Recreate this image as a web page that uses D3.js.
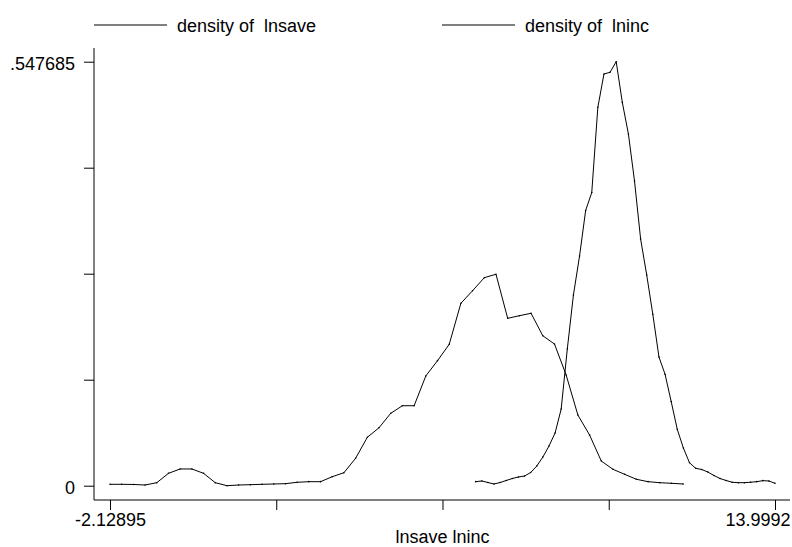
<!DOCTYPE html>
<html>
<head>
<meta charset="utf-8">
<script src="https://cdn.jsdelivr.net/npm/d3@7"></script>
<style>
  html, body { margin: 0; padding: 0; background: #fff; }
  svg text { font-family: "Liberation Sans", Arial, sans-serif; font-size: 18px; fill: #000; }
</style>
</head>
<body>
<svg id="chart" width="792" height="547"></svg>
<script>
// ---- data ----
const seriesNames = ["density of  lnsave", "density of  lninc"];
const xAxisTitle = "lnsave lninc";

const lnsaveX = [-2.129, -1.845, -1.562, -1.278, -0.994, -0.711, -0.427, -0.143, 0.140, 0.424,
  0.708, 0.991, 1.275, 1.559, 1.842, 2.126, 2.410, 2.693, 2.977, 3.261,
  3.544, 3.828, 4.112, 4.396, 4.679, 4.963, 5.247, 5.530, 5.814, 6.098,
  6.381, 6.665, 6.949, 7.232, 7.516, 7.800, 8.083, 8.367, 8.651, 8.934,
  9.218, 9.502, 9.786, 10.069, 10.353, 10.637, 10.920, 11.204, 11.488, 11.771];
const lnsaveY = [0.0018, 0.0018, 0.0016, 0.0009, 0.0039, 0.0160, 0.0216, 0.0216, 0.0160, 0.0039,
  0.0000, 0.0009, 0.0013, 0.0018, 0.0022, 0.0026, 0.0044, 0.0052, 0.0052, 0.0116,
  0.0168, 0.0354, 0.0625, 0.0749, 0.0935, 0.1033, 0.1033, 0.1417, 0.1615, 0.1826,
  0.2356, 0.2519, 0.2687, 0.2731, 0.2162, 0.2196, 0.2227, 0.1937, 0.1830, 0.1430,
  0.0913, 0.0655, 0.0319, 0.0212, 0.0147, 0.0083, 0.0052, 0.0039, 0.0031, 0.0022];

const lnincX = [6.740, 6.888, 7.036, 7.184, 7.333, 7.481, 7.629, 7.777, 7.925, 8.073,
  8.222, 8.370, 8.518, 8.666, 8.814, 8.962, 9.110, 9.259, 9.407, 9.555,
  9.703, 9.851, 9.999, 10.148, 10.296, 10.444, 10.592, 10.740, 10.888, 11.036,
  11.185, 11.333, 11.481, 11.629, 11.777, 11.925, 12.074, 12.222, 12.370, 12.518,
  12.666, 12.814, 12.962, 13.111, 13.259, 13.407, 13.555, 13.703, 13.851, 13.9992];
const lnincY = [0.0052, 0.0061, 0.0041, 0.0022, 0.0041, 0.0067, 0.0093, 0.0112, 0.0125, 0.0170,
  0.0254, 0.0371, 0.0513, 0.0681, 0.0991, 0.1766, 0.2463, 0.2967, 0.3555, 0.3787,
  0.4888, 0.5318, 0.5340, 0.547685, 0.4952, 0.4543, 0.3936, 0.3187, 0.2722, 0.2214,
  0.1662, 0.1439, 0.1088, 0.0728, 0.0487, 0.0297, 0.0225, 0.0209, 0.0177, 0.0132,
  0.0093, 0.0067, 0.0044, 0.0039, 0.0039, 0.0045, 0.0052, 0.0065, 0.0061, 0.0031];

const xTickValues = [-2.12895, 1.90309, 5.93512, 9.96716, 13.9992];
const xTickLabels = ["-2.12895", "", "", "", "13.9992"];
const yTickValues = [0, 0.136921, 0.273843, 0.410764, 0.547685];
const yTickLabels = ["0", "", "", "", ".547685"];

// ---- layout ----
const W = 792, H = 547;
const axisX = 94, axisY = 500;
const svg = d3.select("#chart");

const x = d3.scaleLinear().domain([-2.12895, 13.9992]).range([110, 775]);
const y = d3.scaleLinear().domain([0, 0.547685]).range([485.7, 61.7]);

// y axis
const yAxis = d3.axisLeft(y).tickValues(yTickValues).tickSize(10)
  .tickFormat((d, i) => yTickLabels[i]);
const gy = svg.append("g").attr("transform", `translate(${axisX},0)`).call(yAxis);
gy.select(".domain").remove();
gy.selectAll(".tick line").attr("stroke", "#000").attr("stroke-width", 1);
gy.selectAll(".tick text").attr("font-size", 18).attr("font-family", "Liberation Sans, Arial, sans-serif")
  .attr("x", -19).attr("dy", "0.45em").attr("fill", "#000");
svg.append("line").attr("x1", axisX).attr("x2", axisX).attr("y1", 48).attr("y2", axisY)
  .attr("stroke", "#000").attr("stroke-width", 1);

// x axis
const xAxis = d3.axisBottom(x).tickValues(xTickValues).tickSize(10)
  .tickFormat((d, i) => xTickLabels[i]);
const gx = svg.append("g").attr("transform", `translate(0,${axisY})`).call(xAxis);
gx.select(".domain").remove();
gx.selectAll(".tick line").attr("stroke", "#000").attr("stroke-width", 1);
gx.selectAll(".tick text").attr("font-size", 18).attr("font-family", "Liberation Sans, Arial, sans-serif")
  .attr("y", 13).attr("dy", "0.71em").attr("fill", "#000");
gx.selectAll(".tick").filter((d, i) => i === xTickValues.length - 1).select("text")
  .attr("text-anchor", "end").attr("x", (W - 2) - x(xTickValues[xTickValues.length - 1]));
svg.append("line").attr("x1", axisX).attr("x2", W - 2).attr("y1", axisY).attr("y2", axisY)
  .attr("stroke", "#000").attr("stroke-width", 1);

svg.append("text").attr("x", (x.range()[0] + x.range()[1]) / 2).attr("y", 543)
  .attr("text-anchor", "middle").text(xAxisTitle);

// series
const series = [
  { name: seriesNames[0], pts: lnsaveX.map((v, i) => [v, lnsaveY[i]]) },
  { name: seriesNames[1], pts: lnincX.map((v, i) => [v, lnincY[i]]) }
];
const line = d3.line().x(d => x(d[0])).y(d => y(d[1]));
series.forEach(s => {
  svg.append("path").attr("d", line(s.pts)).attr("fill", "none")
    .attr("stroke", "#000").attr("stroke-width", 1).attr("stroke-linejoin", "round");
  svg.append("g").selectAll("circle").data(s.pts).join("circle")
    .attr("cx", d => x(d[0])).attr("cy", d => y(d[1])).attr("r", 0.8).attr("fill", "#000");
});

// legend
const legendPos = [94, 442];
series.forEach((s, i) => {
  const g = svg.append("g").attr("transform", `translate(${legendPos[i]},25)`);
  g.append("line").attr("x1", 0).attr("x2", 73).attr("y1", 0).attr("y2", 0)
    .attr("stroke", "#000").attr("stroke-width", 1);
  g.append("text").attr("x", 83).attr("y", 6.5).text(s.name).style("white-space", "pre");
});
</script>
</body>
</html>
